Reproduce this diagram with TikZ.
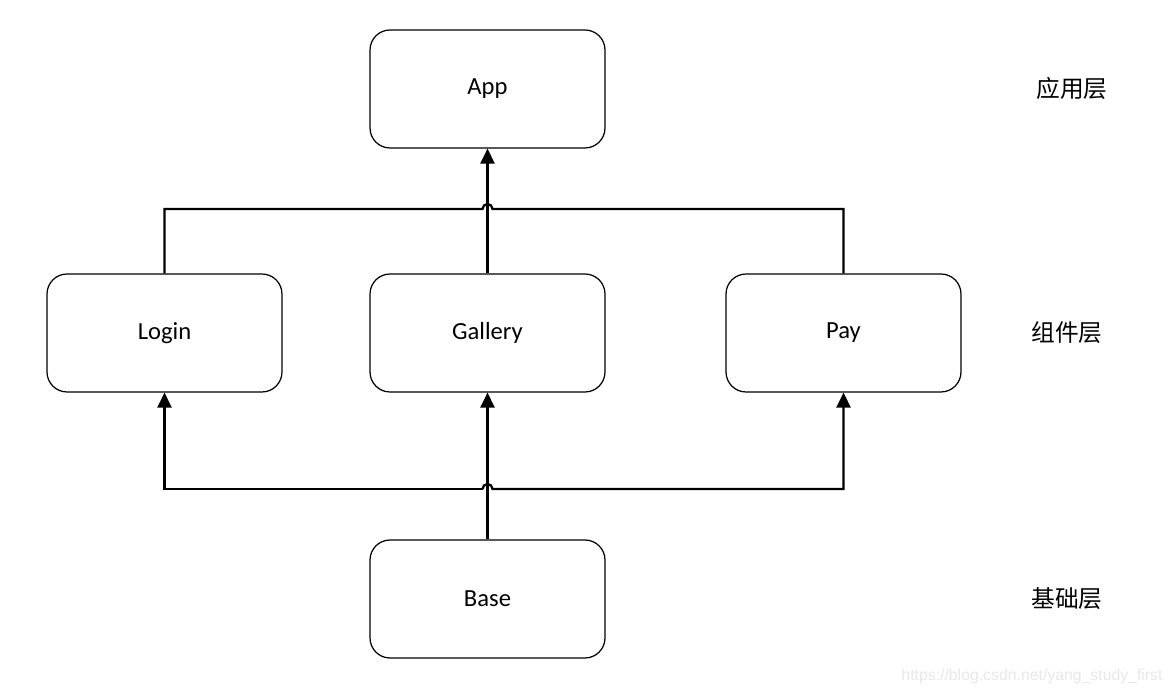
\documentclass[tikz,border=0pt]{standalone}
\usepackage{fontspec}
\setmainfont{Carlito}
\newfontfamily\cjk{Noto Sans CJK SC}
\newfontfamily\wmfont{Liberation Sans}
\usepackage{tikz}
\usetikzlibrary{arrows.meta}

\begin{document}
\begin{tikzpicture}[x = .02cm, y = .02cm,
                        box/.style={draw, rounded corners=.4cm, line width=.7pt,
                          minimum width=4.7cm, minimum height=2.36cm, inner sep=0pt,
                          font=\fontsize{14}{16}\selectfont},
                        layer/.style={font=\cjk\fontsize{13.5}{15}\selectfont},
                        link/.style={line width=1.3pt},
                        up/.style={link, -{Triangle[width=8pt, length=8.5pt]}}]
      \useasboundingbox (0,0) rectangle (1172,692);
      \node[box] (app) at (487.5,603) {App};
      \node[box] (login) at (164.5,359) {Login};
      \node[box] (gallery) at (487.5,359) {Gallery};
      \node[box] (pay) at (843.5,359) {Pay};
      \node[box] (base) at (487.5,93) {Base};
      \node[layer] (l1) at (1072,603) {应用层};
      \node[layer] (l2) at (1067,359) {组件层};
      \node[layer] (l3) at (1067,93) {基础层};
      \node[font=\wmfont\fontsize{9}{11}\selectfont, text=black!9] (mark) at (1032,16)
        {https://blog.csdn.net/yang\_study\_first};
      \coordinate (topbar) at (487.5,483);
      \coordinate (lowbar) at (487.5,203);
      % component layer to app
      \draw[up] (gallery) -- (app);
      \draw[link] (login.north) |- ([xshift=-.1cm]topbar)
        arc[start angle=180, end angle=0, radius=.1cm] -| (pay.north);
      % base to component layer
      \draw[up] (base) -- (gallery);
      \draw[up] ([xshift=-.1cm]lowbar) -| (login.south);
      \draw[up] ([xshift=-.1cm]lowbar)
        arc[start angle=180, end angle=0, radius=.1cm] -| (pay.south);
    \end{tikzpicture}
\end{document}
